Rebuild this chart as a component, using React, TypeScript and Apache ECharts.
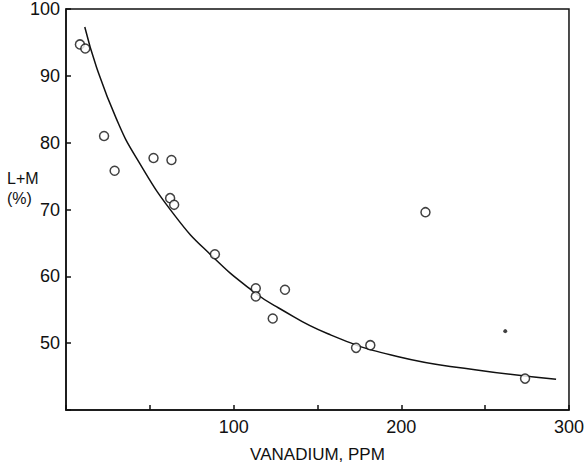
import React, { useEffect, useRef } from "react";
import * as echarts from "echarts";

// Observed data points (vanadium ppm, L+M %)
const vanadium = [8.3, 11.5, 22.7, 29.0, 52.2, 62.9, 62.1, 64.5, 88.8, 113.2, 113.2, 123.3, 130.6, 173.0, 181.5, 214.4, 273.8];
const lm = [94.7, 94.1, 81.0, 75.8, 77.7, 77.4, 71.7, 70.7, 63.3, 58.2, 57.0, 53.7, 58.0, 49.3, 49.7, 69.6, 44.7];

// Fitted curve
const curveX = [11.2, 18.2, 30.0, 41.8, 65.5, 87.2, 110.8, 126.6, 156.2, 197.6, 245.0, 292.3];
const curveY = [97.3, 91.3, 83.6, 77.8, 68.9, 63.0, 57.9, 55.3, 51.4, 48.0, 46.0, 44.6];

// Stray mark in the figure
const strayX = [262];
const strayY = [51.8];

const xTickLabels = ["100", "200", "300"];
const yTickLabels = ["50", "60", "70", "80", "90", "100"];

export default function App() {
  const ref = useRef<HTMLDivElement>(null);
  useEffect(() => {
    if (!ref.current) return;
    const chart = echarts.init(ref.current, null, { renderer: "svg" });
    const font = "Liberation Sans";
    const ink = "#111";
    chart.setOption({
      animation: false,
      backgroundColor: "#fff",
      grid: {
        left: 66,
        right: 14,
        top: 9,
        bottom: 52,
        show: true,
        borderColor: ink,
        borderWidth: 1.5,
        backgroundColor: "transparent",
      },
      xAxis: {
        type: "value",
        min: 0,
        max: 300,
        interval: 50,
        name: "VANADIUM, PPM",
        nameLocation: "middle",
        nameGap: 36,
        nameTextStyle: { fontFamily: font, fontSize: 17, color: ink },
        axisLine: { show: true, lineStyle: { color: ink, width: 1.5 } },
        axisTick: { show: true, inside: true, length: 5, lineStyle: { color: ink, width: 1.5 } },
        splitLine: { show: false },
        axisLabel: {
          margin: 8,
          fontFamily: font,
          fontSize: 18,
          color: ink,
          formatter: (v: number) => (xTickLabels.includes(String(v)) ? String(v) : ""),
        },
      },
      yAxis: {
        type: "value",
        min: 40,
        max: 100,
        interval: 10,
        axisLine: { show: true, lineStyle: { color: ink, width: 1.5 } },
        axisTick: { show: true, inside: true, length: 5, lineStyle: { color: ink, width: 1.5 } },
        splitLine: { show: false },
        axisLabel: {
          margin: 6,
          fontFamily: font,
          fontSize: 18,
          color: ink,
          formatter: (v: number) => (yTickLabels.includes(String(v)) ? String(v) : ""),
        },
      },
      graphic: [
        {
          type: "text",
          left: 7,
          top: 170,
          style: { text: "L+M", fontFamily: font, fontSize: 16, fill: ink },
        },
        {
          type: "text",
          left: 7,
          top: 190,
          style: { text: "(%)", fontFamily: font, fontSize: 16, fill: ink },
        },
      ],
      series: [
        {
          type: "line",
          data: curveX.map((x, i) => [x, curveY[i]]),
          smooth: 0.5,
          showSymbol: false,
          lineStyle: { color: ink, width: 1.5 },
          z: 2,
        },
        {
          type: "scatter",
          data: vanadium.map((x, i) => [x, lm[i]]),
          symbol: "circle",
          symbolSize: 9,
          itemStyle: { color: "#fff", borderColor: ink, borderWidth: 1.5 },
          z: 3,
        },
        {
          type: "scatter",
          data: strayX.map((x, i) => [x, strayY[i]]),
          symbol: "circle",
          symbolSize: 4,
          itemStyle: { color: ink },
          z: 3,
        },
      ],
    });
    return () => chart.dispose();
  }, []);
  return <div ref={ref} style={{ width: 587, height: 468, position: "absolute", left: 0, top: 0 }} />;
}
